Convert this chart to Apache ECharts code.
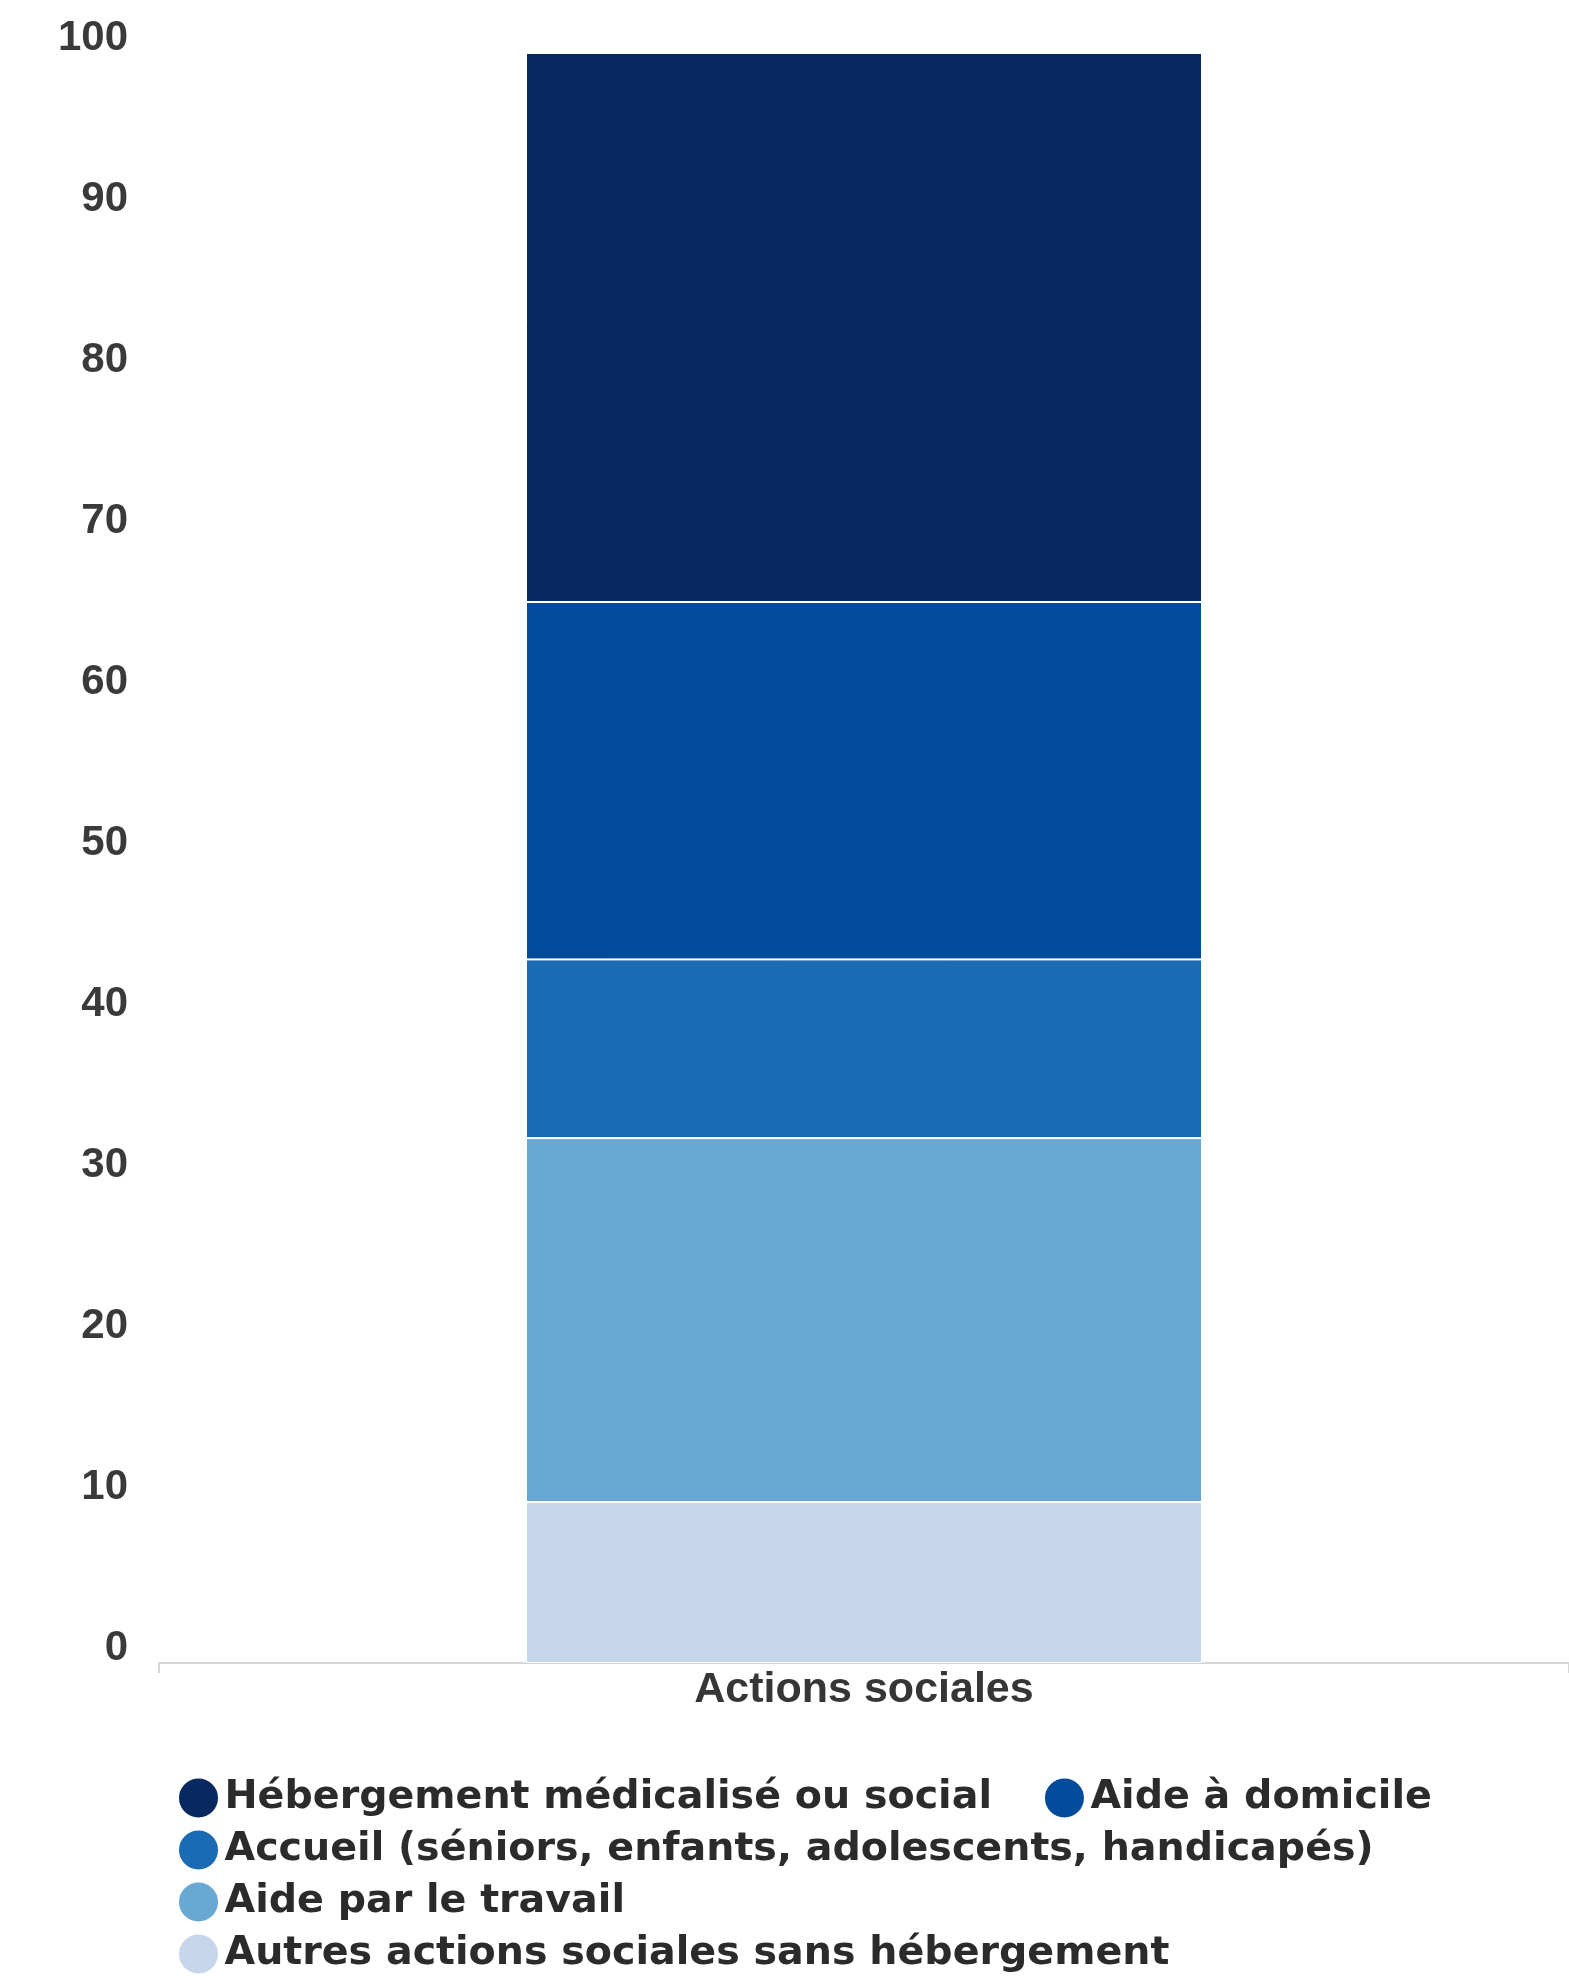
<!DOCTYPE html>
<html>
<head>
<meta charset="utf-8">
<script src="https://cdn.jsdelivr.net/npm/echarts@6/dist/echarts.min.js"></script>
<style>
  html, body { margin: 0; padding: 0; background: #fff; }
  #chart { width: 1569px; height: 1976px; }
</style>
</head>
<body>
<div id="chart"></div>
<script>
// Répartition des actions sociales (%)
const categories = ['Actions sociales'];
const seriesNames = [
  'Hébergement médicalisé ou social',
  'Aide à domicile',
  'Accueil (séniors, enfants, adolescents, handicapés)',
  'Aide par le travail',
  'Autres actions sociales sans hébergement'
];
const hebergement = [34.1];
const aideDomicile = [22.2];
const accueil = [11.1];
const aideTravail = [22.6];
const autres = [10.0];
const yTicks = [0, 10, 20, 30, 40, 50, 60, 70, 80, 90, 100];

const colors = {
  'Hébergement médicalisé ou social': '#07295f',
  'Aide à domicile': '#034c9b',
  'Accueil (séniors, enfants, adolescents, handicapés)': '#1a6ab4',
  'Aide par le travail': '#69a8d3',
  'Autres actions sociales sans hébergement': '#c6d7eb'
};

// stacking order, bottom to top
const stack = [
  [seriesNames[4], autres],
  [seriesNames[3], aideTravail],
  [seriesNames[2], accueil],
  [seriesNames[1], aideDomicile],
  [seriesNames[0], hebergement]
];

const chart = echarts.init(document.getElementById('chart'), null, { renderer: 'canvas' });

chart.setOption({
  animation: false,
  backgroundColor: '#ffffff',
  grid: { left: 159, right: 0, top: 53, bottom: 313, containLabel: false },
  legend: {
    data: seriesNames,
    orient: 'horizontal',
    left: 172,
    top: 1770,
    width: 1400,
    icon: 'circle',
    itemWidth: 42,
    itemHeight: 41,
    itemGap: 6,
    textStyle: {
      fontFamily: 'DejaVu Sans',
      fontWeight: 'bold',
      fontSize: 39.6,
      color: '#2b2b2b',
      lineHeight: 46,
      padding: [0, 45, 0, 0]
    }
  },
  xAxis: {
    type: 'category',
    data: categories,
    boundaryGap: true,
    axisLine: { show: true, lineStyle: { color: '#d6d6d6', width: 2 } },
    axisTick: { show: true, length: 10, lineStyle: { color: '#d6d6d6', width: 2 } },
    axisLabel: {
      fontFamily: 'Liberation Sans',
      fontWeight: 700,
      fontSize: 43,
      color: '#363636',
      margin: 6
    }
  },
  yAxis: {
    type: 'value',
    min: yTicks[0],
    max: yTicks[yTicks.length - 1],
    interval: yTicks[1] - yTicks[0],
    axisLine: { show: false },
    axisTick: { show: false },
    splitLine: { show: false },
    axisLabel: {
      fontFamily: 'Liberation Sans',
      fontWeight: 'bold',
      fontSize: 42,
      color: '#3a3a3a',
      margin: 31,
      verticalAlign: 'bottom',
      lineHeight: 30
    }
  },
  series: stack.map(([name, values]) => ({
    name: name,
    type: 'bar',
    stack: 'total',
    barWidth: 676,
    data: values,
    itemStyle: {
      color: colors[name],
      borderColor: '#ffffff',
      borderWidth: 1
    }
  }))
});
</script>
</body>
</html>
